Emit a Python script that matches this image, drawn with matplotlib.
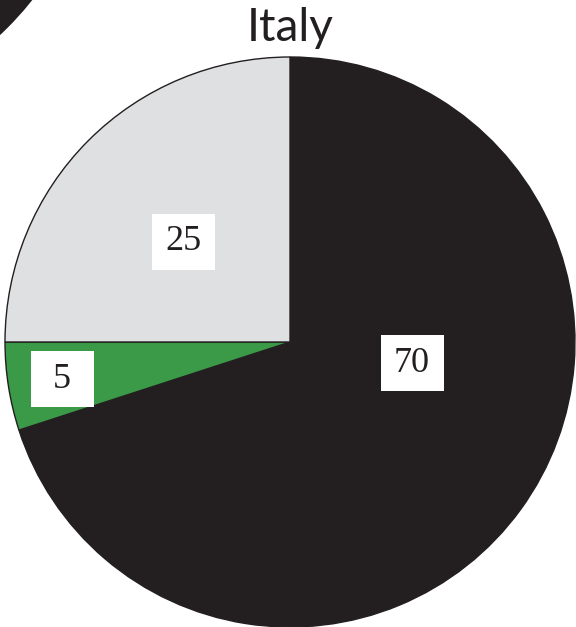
import matplotlib
matplotlib.use("Agg")
import matplotlib.pyplot as plt
from matplotlib.patches import Circle, Rectangle

title = "Italy"
values = [70, 5, 25]
colors = ["#231f20", "#3a9a47", "#dfe0e2"]
labels = ["70", "5", "25"]

W, H = 576, 627
fig = plt.figure(figsize=(W / 100, H / 100), dpi=100)
ax = fig.add_axes([0, 0, 1, 1])
ax.axis("off")

# pie center at pixel (290, 342), radius 285 px
cx, cy, R = 290, 342, 285

# part of neighbouring chart in top-left corner
ax.add_patch(Circle(((-220 - cx) / R, (cy + 200) / R), 322 / R,
                    facecolor="#231f20", edgecolor="none"))

wedges, _ = ax.pie(values, colors=colors, startangle=90, counterclock=False,
                   radius=1.0, center=(0, 0),
                   wedgeprops=dict(edgecolor="#231f20", linewidth=1.0))
ax.set_xlim(-cx / R, (W - cx) / R)
ax.set_ylim(-(H - cy) / R, cy / R)
ax.set_aspect("auto")

label_pos = {"70": (412, 363), "5": (62, 379), "25": (183, 242)}
bw, bh = 63, 56
for lab in labels:
    px, py = label_pos[lab]
    x, y = (px - cx) / R, (cy - py) / R
    ax.add_patch(Rectangle((x - bw / 2 / R, y - bh / 2 / R), bw / R, bh / R,
                           facecolor="white", edgecolor="none", zorder=3))
    ax.text(x, y, lab, ha="center", va="center", zorder=4,
            fontsize=26, family="Liberation Serif", color="#231f20")

ax.text(0, (cy - 28) / R, title, ha="center", va="center", fontsize=33,
        family="Lato", color="#231f20")

fig.savefig("out.png", dpi=100)
